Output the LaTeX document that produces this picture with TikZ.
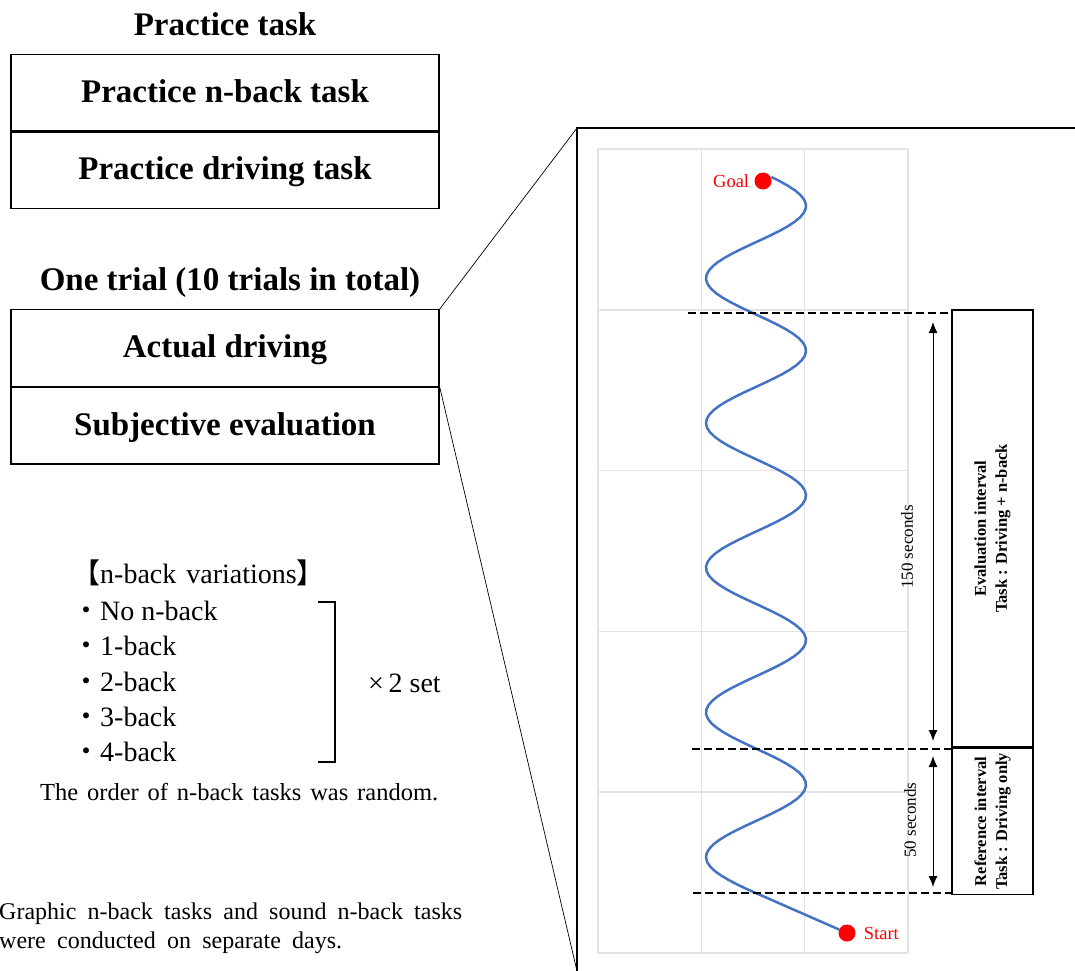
\documentclass[tikz,border=0pt]{standalone}
\usepackage{fontspec}
\setmainfont{Liberation Serif}
\newfontfamily\cjk{Noto Sans CJK JP}
\usetikzlibrary{arrows.meta,positioning}
\definecolor{roadblue}{HTML}{4472C4}

\begin{document}
\begin{tikzpicture}[x=1pt,y=-1pt,
  head/.style={anchor=base,inner sep=0pt,font=\fontsize{33}{40}\selectfont\bfseries},
  taskbox/.style={draw,line width=1.4pt,minimum width=428pt,minimum height=76.5pt,inner sep=0pt,
    text height=24pt,text depth=5pt,font=\fontsize{33}{40}\selectfont\bfseries},
  item/.style={anchor=base west,inner sep=0pt,font=\fontsize{28}{32}\selectfont},
  gridline/.style={color=gray!22,line width=1.5pt},
  road/.style={color=roadblue,line width=2.5pt},
  cut/.style={line width=2.2pt,dash pattern=on 8pt off 4pt},
  dim/.style={{Latex[length=11pt,width=9pt]}-{Latex[length=11pt,width=9pt]},line width=1pt},
  sec/.style={rotate=90,inner sep=0pt,font=\fontsize{17}{20}\selectfont},
  ivalbox/.style={draw,line width=1.4pt,minimum width=81pt,inner sep=0pt},
  ivaltext/.style={rotate=90,inner sep=0pt,align=center,font=\fontsize{16.5}{21}\selectfont\bfseries},
  dot/.style={circle,fill=red,minimum size=17pt,inner sep=0pt},
  redlbl/.style={red,inner sep=0pt,font=\fontsize{18.5}{22}\selectfont}]
\useasboundingbox (0,0) rectangle (1075,970);

% left side: task boxes
\node[head] (practice) at (225,35) {Practice task};
\node[taskbox] (pnback) at (225,92.5) {Practice n-back task};
\node[taskbox,below=0pt of pnback] (pdrive) {Practice driving task};
\node[head] (trial) at (230,290) {One trial (10 trials in total)};
\node[taskbox] (drive) at (225,348) {Actual driving};
\node[taskbox,below=0pt of drive] (subj) {Subjective evaluation};

% n-back variations
\node[item] (varhead) at (72,583) {{\cjk 【}n-back\hspace{10pt}variations{\cjk 】}};
\node[item] (v0) at (72,620) {{\cjk ・}No n-back};
\node[item] (v1) at (72,655.5) {{\cjk ・}1-back};
\node[item] (v2) at (72,691) {{\cjk ・}2-back};
\node[item] (v3) at (72,726) {{\cjk ・}3-back};
\node[item] (v4) at (72,761) {{\cjk ・}4-back};
\draw[line width=2pt] (318,602) -- (335,602) -- (335,762) -- (318,762);
\node[item] (times) at (368,692) {×\,2 set};
\node[item,font=\fontsize{24.5}{30}\selectfont] (order) at (40,800) {\makebox[398pt][s]{The order of n-back tasks was random.}};
\node[item,font=\fontsize{24}{28}\selectfont] (note1) at (-1,919) {\makebox[463pt][s]{Graphic n-back tasks and sound n-back tasks}};
\node[item,font=\fontsize{24}{28}\selectfont] (note2) at (-1,948) {\makebox[343pt][s]{were conducted on separate days.}};

% zoomed frame
\coordinate (ftl) at (577,128);
\coordinate (fbl) at (577,971);
\coordinate (ftr) at (1076,128);
\draw[line width=1.5pt] (fbl) -- (ftl) -- (ftr);
\draw[line width=0.7pt] (drive.north east) -- (ftl);
\draw[line width=0.7pt] (drive.south east) -- (fbl);

% course grid
\foreach \i in {0,...,3}
  \draw[gridline] (598+103.33*\i,149) -- (598+103.33*\i,953);
\foreach \j in {0,...,5}
  \draw[gridline] (598,149+160.8*\j) -- (908,149+160.8*\j);

% course
\node[dot] (goal) at (763,181) {};
\node[redlbl,left=5pt of goal] (goallbl) {Goal};
\node[dot] (start) at (847,933) {};
\node[redlbl,right=8pt of start] (startlbl) {Start};
\draw[road] plot[domain=177:889,samples=160,variable=\t]
  ({756+50*sin(2.4879*(\t-169.8))},\t) -- (start);

% intervals
\node[ivalbox,minimum height=437pt] (evalbox) at (992.5,528.5) {};
\node[ivalbox,minimum height=146pt,below=0pt of evalbox] (refbox) {};
\node[ivaltext] (evaltxt) at (evalbox.center) {Evaluation interval\\Task : Driving + n-back};
\node[ivaltext] (reftxt) at (refbox.center) {Reference interval\\Task : Driving only};
\coordinate (d1) at (688,313);
\coordinate (d2) at (692,749);
\coordinate (d3) at (693,893);
\draw[cut] (d1) -- (d1 -| evalbox.west);
\draw[cut] (d2) -- (d2 -| evalbox.west);
\draw[cut] (d3) -- ([xshift=3pt]d3 -| refbox.west);
\coordinate (a1) at (933,322);
\coordinate (a2) at (933,741);
\coordinate (b1) at (933,756);
\coordinate (b2) at (933,887);
\draw[dim] (a1) -- (a2);
\draw[dim] (b1) -- (b2);
\node[sec] (s150) at (907,547) {150 seconds};
\node[sec] (s50) at (910,820) {50 seconds};
\end{tikzpicture}
\end{document}
